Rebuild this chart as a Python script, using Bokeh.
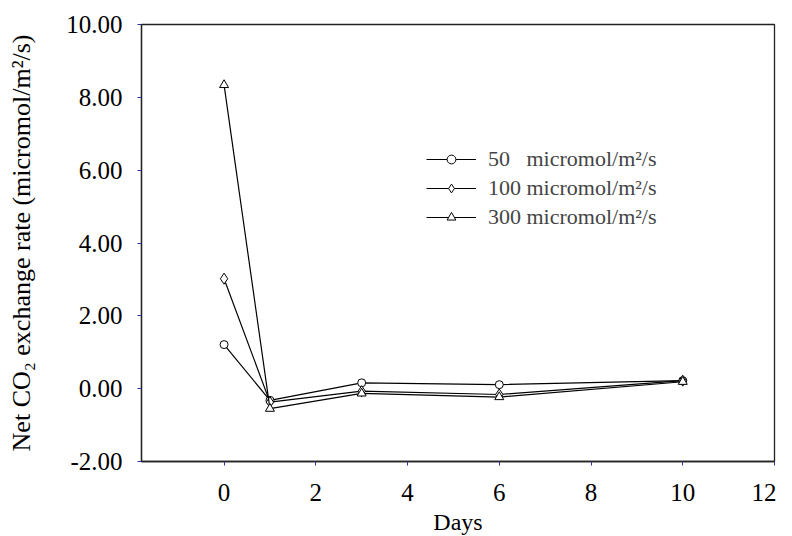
from bokeh.plotting import figure
from bokeh.models import Legend, LegendItem, PrintfTickFormatter, FixedTicker, Range1d
from bokeh.embed import file_html
from bokeh.resources import INLINE

days = [0, 1, 3, 6, 10]
s50 = [1.21, -0.32, 0.16, 0.11, 0.22]
s100 = [3.02, -0.37, -0.07, -0.16, 0.22]
s300 = [8.34, -0.55, -0.13, -0.23, 0.19]
labels = ["50   micromol/m²/s", "100 micromol/m²/s", "300 micromol/m²/s"]
x_ticks = [0, 2, 4, 6, 8, 10, 12]
y_ticks = [-2, 0, 2, 4, 6, 8, 10]

FONT = "Liberation Serif"

p = figure(width=776, height=536, output_backend="svg", toolbar_location=None,
           x_range=Range1d(-1.8, 12), y_range=Range1d(-2, 10),
           min_border_left=141, min_border_top=24, min_border_right=2, min_border_bottom=75)
p.frame_width = 633
p.frame_height = 437
p.grid.visible = False
p.background_fill_color = "white"
p.border_fill_color = "white"
p.outline_line_color = "#222222"
p.outline_line_width = 1.3

for ax in (p.xaxis[0], p.yaxis[0]):
    ax.axis_line_color = "#222222"
    ax.axis_line_width = 1.3
    ax.major_tick_line_color = "#3030a0"
    ax.major_tick_in = 0
    ax.major_tick_out = 4
    ax.minor_tick_line_color = None
    ax.major_label_text_font = FONT
    ax.major_label_text_font_size = "25px"
    ax.major_label_text_color = "black"
    ax.axis_label_text_font = FONT
    ax.axis_label_text_font_size = "24px"
    ax.axis_label_text_font_style = "normal"
    ax.axis_label_text_color = "black"

p.yaxis.axis_label_text_font_size = "26px"
p.xaxis.ticker = FixedTicker(ticks=x_ticks)
p.yaxis.ticker = FixedTicker(ticks=y_ticks)
p.yaxis.formatter = PrintfTickFormatter(format="%.2f")
p.xaxis.axis_label = "Days"
p.yaxis.axis_label = "Net CO₂ exchange rate (micromol/m²/s)"
p.xaxis.major_label_standoff = 18
p.yaxis.major_label_standoff = 15
p.xaxis.axis_label_standoff = 5
p.yaxis.axis_label_standoff = 27

items = []
for ys, marker, size, lab in [(s50, "circle", 8, labels[0]),
                              (s100, "diamond", 11, labels[1]),
                              (s300, "triangle", 9, labels[2])]:
    l = p.line(days, ys, line_color="black", line_width=1.2)
    s = p.scatter(days, ys, marker=marker, size=size, fill_color="white",
                  line_color="black", line_width=1)
    items.append(LegendItem(label=lab, renderers=[l, s]))

legend = Legend(items=items, location=(285, 231))
legend.border_line_color = None
legend.background_fill_alpha = 0
legend.label_text_font = FONT
legend.label_text_font_size = "22px"
legend.glyph_width = 50
legend.glyph_height = 22
legend.label_height = 22
legend.spacing = 3
legend.padding = 5
legend.label_standoff = 12
p.add_layout(legend, "center")

open("out.html", "w").write(file_html(p, INLINE))
